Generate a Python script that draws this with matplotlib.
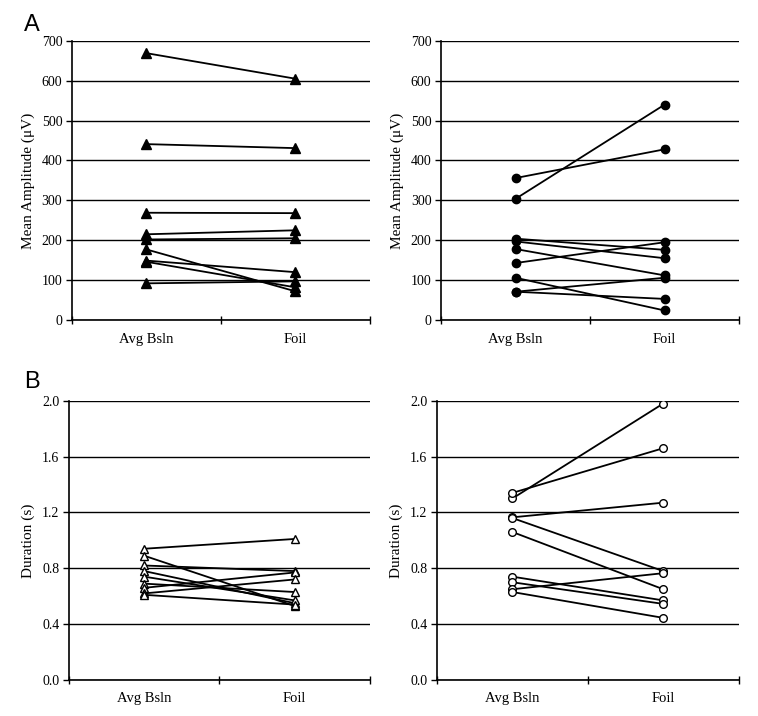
import matplotlib
matplotlib.use("Agg")
import matplotlib.pyplot as plt
from matplotlib.ticker import FormatStrFormatter

# categories
conditions = ["Avg Bsln", "Foil"]

# panel A, left (filled triangles) - mean amplitude (uV)
amp_tri_bsln = [669, 441, 269, 215, 202, 177, 149, 146, 92]
amp_tri_foil = [605, 431, 268, 225, 205, 72, 120, 82, 97]

# panel A, right (filled circles)
amp_circ_bsln = [304, 356, 204, 197, 178, 143, 106, 71, 71]
amp_circ_foil = [540, 428, 176, 155, 112, 195, 24, 106, 53]

# panel B, left (open triangles) - duration (s)
dur_tri_bsln = [0.94, 0.89, 0.82, 0.78, 0.74, 0.69, 0.66, 0.62, 0.61]
dur_tri_foil = [1.01, 0.53, 0.78, 0.55, 0.57, 0.63, 0.77, 0.72, 0.54]

# panel B, right (open circles)
dur_circ_bsln = [1.30, 1.34, 1.165, 1.16, 1.06, 0.74, 0.70, 0.65, 0.63]
dur_circ_foil = [1.98, 1.66, 1.27, 0.78, 0.65, 0.57, 0.545, 0.765, 0.445]

plt.rcParams['font.family'] = ['Liberation Serif', 'DejaVu Serif']

fig = plt.figure(figsize=(7.58, 7.16), dpi=100)

panels = [
    # rect, bsln, foil, marker, filled, size, ylim, ticks, label, fmt
    ([0.095, 0.553, 0.393, 0.390], amp_tri_bsln, amp_tri_foil, '^', True, 7,
     (0, 700), range(0, 701, 100), "Mean Amplitude (\u03bcV)", '%d'),
    ([0.582, 0.553, 0.393, 0.390], amp_circ_bsln, amp_circ_foil, 'o', True, 6,
     (0, 700), range(0, 701, 100), "Mean Amplitude (\u03bcV)", '%d'),
    ([0.091, 0.0503, 0.397, 0.390], dur_tri_bsln, dur_tri_foil, '^', False, 6,
     (0, 2.0), [0, 0.4, 0.8, 1.2, 1.6, 2.0], "Duration (s)", '%.1f'),
    ([0.5765, 0.0503, 0.398, 0.390], dur_circ_bsln, dur_circ_foil, 'o', False, 5.5,
     (0, 2.0), [0, 0.4, 0.8, 1.2, 1.6, 2.0], "Duration (s)", '%.1f'),
]

xpos = [0.5, 1.5]
for rect, bsln, foil, mk, filled, ms, ylim, yt, ylab, fmt in panels:
    ax = fig.add_axes(rect)
    for b, f in zip(bsln, foil):
        ax.plot(xpos, [b, f], color='black', lw=1.3, marker=mk, ms=ms,
                mfc='black' if filled else 'white', mec='black', mew=1.0,
                zorder=3)
    ax.set_xlim(0, 2)
    ax.set_ylim(*ylim)
    ax.set_yticks(list(yt))
    ax.yaxis.set_major_formatter(FormatStrFormatter(fmt))
    ax.yaxis.grid(True, color='black', lw=1.0)
    ax.set_axisbelow(True)
    # tick marks sit between the categories, labels at the centres
    ax.set_xticks([0, 1, 2])
    ax.set_xticklabels([])
    ax.set_xticks(xpos, minor=True)
    ax.set_xticklabels(conditions, minor=True)
    ax.tick_params(axis='x', which='minor', length=0, pad=9, labelsize=10.5)
    ax.tick_params(axis='x', which='major', direction='inout', length=6, width=1)
    ax.tick_params(axis='y', direction='out', length=4, width=1, labelsize=10, pad=3)
    for s in ['top', 'right']:
        ax.spines[s].set_visible(False)
    ax.spines['left'].set_linewidth(1.2)
    ax.spines['bottom'].set_linewidth(1.2)
    ax.set_ylabel(ylab, fontsize=11, labelpad=5)

fig.text(0.032, 0.965, "A", family='Liberation Sans', fontsize=17, va='center')
fig.text(0.032, 0.467, "B", family='Liberation Sans', fontsize=17, va='center')

fig.savefig("out.png", dpi=100)
